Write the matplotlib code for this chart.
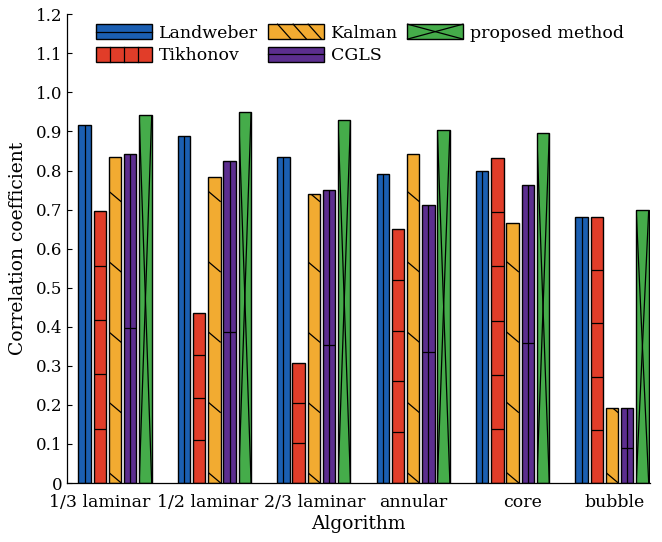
import matplotlib
matplotlib.use("Agg")
import matplotlib.pyplot as plt
import matplotlib.transforms as mtransforms
import numpy as np
from matplotlib.patches import Rectangle, Patch
from matplotlib.lines import Line2D
from matplotlib.legend import Legend
from matplotlib.legend_handler import HandlerBase
from matplotlib.ticker import FixedLocator, FixedFormatter

plt.rcParams['font.family'] = ['DejaVu Serif']

# ---- data ----
categories = ["1/3 laminar", "1/2 laminar", "2/3 laminar", "annular", "core", "bubble"]
methods = ["Landweber", "Tikhonov", "Kalman", "CGLS", "proposed method"]
landweber = [0.916, 0.888, 0.835, 0.790, 0.800, 0.681]
tikhonov = [0.696, 0.436, 0.306, 0.650, 0.832, 0.681]
kalman = [0.835, 0.783, 0.741, 0.843, 0.666, 0.191]
cgls = [0.842, 0.825, 0.751, 0.712, 0.762, 0.191]
proposed = [0.941, 0.951, 0.930, 0.903, 0.895, 0.699]
yticks = [0, 0.1, 0.2, 0.3, 0.4, 0.5, 0.6, 0.7, 0.8, 0.9, 1.0, 1.1, 1.2]
ytick_labels = ["0", "0.1", "0.2", "0.3", "0.4", "0.5", "0.6", "0.7", "0.8", "0.9", "1.0", "1.1", "1.2"]

series = [landweber, tikhonov, kalman, cgls, proposed]

# ---- styles ----
colors = ["#1b5fb2", "#e13d29", "#f2ab31", "#5c2e8f", "#45ac4a"]
kinds = ["vline", "hlines", "diag", "vcross", "x"]
legend_kinds = ["hline", "vlines", "diag", "hline", "x"]
bar_w = 0.126
pitch = 0.153
edge_lw = 1.0
deco_lw = 0.9
label_shift_px = [-15, -7, 1, 0, 10, 3]

fig = plt.figure(figsize=(6.62, 5.42), dpi=100)
ax = fig.add_axes([67 / 662, 59 / 542, 583 / 662, 468.7 / 542])

x = np.arange(len(categories))


def decorate(ax, rect, kind):
    x0 = rect.get_x()
    w = rect.get_width()
    h = rect.get_height()
    segs = []
    if kind == "vline":
        segs.append(([x0 + w / 2, x0 + w / 2], [0, h]))
    elif kind == "hlines":
        n = max(1, int(round(h / 0.17)))
        for k in range(1, n + 1):
            yy = h * k / (n + 1)
            segs.append(([x0, x0 + w], [yy, yy]))
    elif kind == "diag":
        step, drop = 0.18, 0.027
        yy = 0.0
        while yy < h + drop:
            segs.append(([x0, x0 + w], [yy + drop, yy]))
            yy += step
    elif kind == "vcross":
        segs.append(([x0 + w / 2, x0 + w / 2], [0, h]))
        segs.append(([x0, x0 + w], [0.47 * h, 0.47 * h]))
    elif kind == "x":
        segs.append(([x0, x0 + w], [0, h]))
        segs.append(([x0, x0 + w], [h, 0]))
    for xs, ys in segs:
        ln = Line2D(xs, ys, color="black", lw=deco_lw, solid_capstyle="butt")
        ax.add_line(ln)
        ln.set_clip_path(rect)


for i, (vals, col, kind) in enumerate(zip(series, colors, kinds)):
    bars = ax.bar(x + (i - 2) * pitch, vals, width=bar_w, color=col,
                  edgecolor="black", linewidth=edge_lw, zorder=2)
    for r in bars:
        decorate(ax, r, kind)

ax.set_xlim(-0.483, 5.382)
ax.set_ylim(0, 1.2)

ax.yaxis.set_major_locator(FixedLocator(yticks))
ax.yaxis.set_major_formatter(FixedFormatter(ytick_labels))
ax.tick_params(axis="y", direction="in", length=3.5, width=0.8, labelsize=12, pad=3.5)
ax.set_xticks(x)
ax.set_xticklabels(categories)
ax.tick_params(axis="x", length=0, labelsize=12.5, pad=8)

for lab, dx in zip(ax.get_xticklabels(), label_shift_px):
    lab.set_transform(lab.get_transform() + mtransforms.ScaledTranslation(dx / 100, 0, fig.dpi_scale_trans))

for s in ("top", "right"):
    ax.spines[s].set_visible(False)
ax.spines["left"].set_linewidth(0.9)
ax.spines["bottom"].set_linewidth(0.9)

ax.set_ylabel("Correlation coefficient", fontsize=13.5, labelpad=6)
ax.set_xlabel("Algorithm", fontsize=13.5, labelpad=3)


class BarHandler(HandlerBase):
    def __init__(self, kind):
        super().__init__()
        self.kind = kind

    def create_artists(self, legend, orig_handle, xdescent, ydescent,
                       width, height, fontsize, trans):
        x0, y0 = -xdescent, -ydescent
        rect = Rectangle((x0, y0), width, height, facecolor=orig_handle.get_facecolor(),
                         edgecolor="black", lw=edge_lw, transform=trans)
        arts = [rect]
        segs = []
        k = self.kind
        if k == "hline":
            segs.append(([x0, x0 + width], [y0 + height / 2] * 2))
        elif k == "vlines":
            for f in (0.25, 0.5, 0.75):
                segs.append(([x0 + f * width] * 2, [y0, y0 + height]))
        elif k == "diag":
            for f in (0.17, 0.45, 0.72):
                segs.append(([x0 + f * width, x0 + (f + 0.24) * width], [y0 + height, y0]))
        elif k == "x":
            segs.append(([x0, x0 + width], [y0, y0 + height]))
            segs.append(([x0, x0 + width], [y0 + height, y0]))
        for xs, ys in segs:
            arts.append(Line2D(xs, ys, color="black", lw=deco_lw, transform=trans))
        return arts


proxies = [Patch(facecolor=c, label=m) for c, m in zip(colors, methods)]
hmap = {p: BarHandler(k) for p, k in zip(proxies, legend_kinds)}

columns = [([0, 1], 0.0506), ([2, 3], 0.345), ([4], 0.584)]
for idx, xa in columns:
    leg = Legend(ax, [proxies[j] for j in idx], [methods[j] for j in idx],
                 handler_map=hmap, loc="upper left", bbox_to_anchor=(xa, 0.979),
                 frameon=False, fontsize=12.5, handlelength=3.2, handleheight=0.95,
                 handletextpad=0.4, labelspacing=0.3, borderpad=0, borderaxespad=0)
    ax.add_artist(leg)

fig.savefig("out.png", dpi=100)
